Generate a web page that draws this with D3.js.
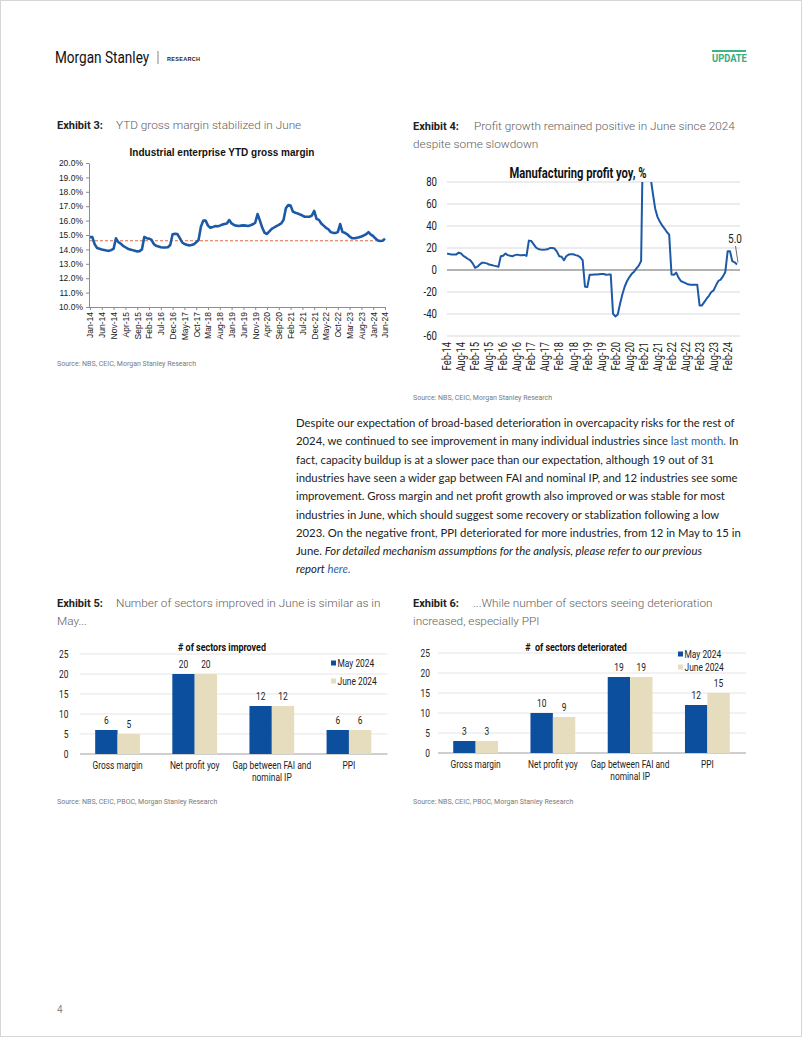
<!DOCTYPE html>
<html><head><meta charset="utf-8">
<script src="https://cdn.jsdelivr.net/npm/d3@7"></script>
<style>
html,body{margin:0;padding:0;background:#fff;}
svg{display:block;}
</style></head><body>
<svg id="page" width="802" height="1037"></svg>
<script>
// ---------------- DATA ----------------
// Exhibit 3: industrial enterprise YTD gross margin (%), monthly Jan-14 .. Jun-24
const gmValues = [
 14.85,14.85,14.35,14.10,14.05,14.00,13.96,13.92,13.90,13.95,14.05,14.77,
 14.50,14.40,14.25,14.15,14.05,14.00,13.95,13.90,13.85,13.88,14.00,14.86,
 14.78,14.75,14.68,14.38,14.25,14.20,14.15,14.13,14.13,14.15,14.30,15.05,
 15.08,15.07,14.80,14.50,14.38,14.32,14.28,14.30,14.35,14.50,14.65,15.58,
 16.00,16.00,15.65,15.50,15.55,15.62,15.60,15.65,15.72,15.76,15.80,16.04,
 15.80,15.70,15.65,15.63,15.65,15.67,15.65,15.63,15.68,15.74,15.85,16.46,
 16.00,15.50,15.15,15.07,15.25,15.42,15.52,15.62,15.70,15.80,16.04,16.85,
 17.08,17.04,16.62,16.55,16.50,16.42,16.35,16.27,16.27,16.27,16.35,16.67,
 16.12,16.05,15.80,15.65,15.50,15.40,15.20,15.15,15.14,15.20,15.76,15.20,
 15.15,15.05,14.90,14.78,14.77,14.80,14.85,14.90,14.97,15.05,15.20,15.02,
 14.93,14.75,14.62,14.58,14.60,14.75
];
const gmTickLabels = ["Jan-14","Jun-14","Nov-14","Apr-15","Sep-15","Feb-16","Jul-16","Dec-16","May-17","Oct-17","Mar-18","Aug-18","Jan-19","Jun-19","Nov-19","Apr-20","Sep-20","Feb-21","Jul-21","Dec-21","May-22","Oct-22","Mar-23","Aug-23","Jan-24","Jun-24"];
const gmYTicks = [10,11,12,13,14,15,16,17,18,19,20];
const gmReference = 14.6;

// Exhibit 4: manufacturing profit yoy (%), monthly Feb-14 .. Jun-24
const profitValues = [
 14.9,14.5,14.0,14.0,14.2,15.8,15.0,12.8,11.5,10.0,8.8,6.0,
 2.0,3.0,5.0,6.7,6.5,6.0,5.0,4.6,4.0,3.5,3.0,12.5,
 13.0,14.9,13.5,13.0,12.5,13.5,14.0,13.5,13.4,13.7,12.8,26.7,
 26.4,23.5,20.5,19.1,18.7,18.5,18.6,18.8,20.0,20.0,19.5,16.7,
 12.5,12.0,8.8,12.5,14.0,14.3,14.3,13.5,13.0,11.5,9.0,-15.2,
 -15.5,-4.3,-4.3,-4.1,-4.0,-3.8,-3.6,-3.6,-4.3,-4.2,-4.0,-39.8,
 -42.2,-40.4,-30.7,-22.0,-15.0,-10.0,-6.4,-3.5,-1.5,1.5,4.0,8.2,
 150,130,100,85,70,56,48.3,44,40.5,37.7,34.5,32.2,
 -4.0,-4.3,-2.4,-7.0,-10.0,-11.0,-12.0,-13.0,-13.4,-13.4,-13.4,-13.4,
 -32.2,-32.2,-29.2,-26.1,-23.5,-20.0,-18.5,-14.0,-10.0,-8.8,-5.8,-1.8,
 17.0,17.0,8.0,7.0,5.0
];
const profitTickLabels = ["Feb-14","Aug-14","Feb-15","Aug-15","Feb-16","Aug-16","Feb-17","Aug-17","Feb-18","Aug-18","Feb-19","Aug-19","Feb-20","Aug-20","Feb-21","Aug-21","Feb-22","Aug-22","Feb-23","Aug-23","Feb-24"];
const profitYTicks = [-60,-40,-20,0,20,40,60,80];
const profitLastLabel = "5.0";

// Exhibits 5 & 6: number of sectors
const sectorCategories = ["Gross margin","Net profit yoy","Gap between FAI and nominal IP","PPI"];
const seriesNames = ["May 2024","June 2024"];
const improvedMay = [6,20,12,6];
const improvedJune = [5,20,12,6];
const deterioratedMay = [3,10,19,12];
const deterioratedJune = [3,9,19,15];
const sectorYTicks = [0,5,10,15,20,25];

// ---------------- STYLE ----------------
const ARIAL = "'Liberation Sans',Arial,sans-serif";
const ROBOTO = "Roboto,'Liberation Sans',sans-serif";
const BODY = "Lato,'Open Sans',sans-serif";
const BLUE_LINE = "#1c5aa8";
const MAY_C = "#0b4f9e";
const JUNE_C = "#e6ddbf";
const SX = 0.8; // horizontal squeeze to imitate a condensed face

const svg = d3.select("#page");
svg.append("rect").attr("x",0.5).attr("y",0.5).attr("width",801).attr("height",1036)
  .attr("fill","#fff").attr("stroke","#d6d6d6");

// condensed text helper: positioned group, squeezed horizontally
function ctext(parent, x, y, str, o={}){
  const g = parent.append("g")
    .attr("transform", `translate(${x},${y})${o.rotate?` rotate(${o.rotate})`:""} scale(${o.sx||SX},1)`);
  const t = g.append("text").attr("font-family",ROBOTO).attr("font-size",o.size||10)
    .attr("font-weight",o.weight||"normal").attr("fill",o.fill||"#222")
    .attr("text-anchor",o.anchor||"start").attr("xml:space","preserve");
  if(o.dy) t.attr("dy",o.dy);
  t.text(str);
  return t;
}

// ---------------- HEADER ----------------
ctext(svg,55,63,"Morgan Stanley",{size:17,fill:"#111",sx:0.8});
svg.append("line").attr("x1",158).attr("x2",158).attr("y1",51).attr("y2",64).attr("stroke","#666").attr("stroke-width",0.8);
svg.append("text").attr("x",167).attr("y",60.5).attr("font-family",ARIAL).attr("font-size",5.5)
  .attr("font-weight","bold").attr("letter-spacing",0.3).attr("fill","#222").text("RESEARCH");
svg.append("rect").attr("x",712).attr("y",50).attr("width",34).attr("height",2).attr("fill","#3db589");
ctext(svg,712,62,"UPDATE",{size:11,weight:"bold",fill:"#35ad83",sx:0.85});

// ---------------- EXHIBIT TITLES ----------------
function exhibit(x, y, label, descX, lines){
  svg.append("text").attr("x",x).attr("y",y).attr("font-family",ROBOTO).attr("font-size",11)
    .attr("font-weight","bold").attr("fill","#222").text(label);
  lines.forEach((t,i)=>{
    svg.append("text").attr("x", i===0?descX:x).attr("y", y+18.3*i).attr("font-family",ROBOTO)
      .attr("font-size",11.8).attr("font-weight",300).attr("fill","#5e5e5e").text(t);
  });
}
exhibit(57,129,"Exhibit 3:",116,["YTD gross margin stabilized in June"]);
exhibit(413,130,"Exhibit 4:",474,["Profit growth remained positive in June since 2024","despite some slowdown"]);
exhibit(57,607,"Exhibit 5:",116,["Number of sectors improved in June is similar as in","May..."]);
exhibit(413,607,"Exhibit 6:",473,["...While number of sectors seeing deterioration","increased, especially PPI"]);

function source(x,y,t){
  svg.append("text").attr("x",x).attr("y",y).attr("font-family",ROBOTO).attr("font-size",7)
    .attr("fill","#7a7a7a").text(t);
}
source(57,366,"Source: NBS, CEIC, Morgan Stanley Research");
source(413,400,"Source: NBS, CEIC, Morgan Stanley Research");
source(57,804,"Source: NBS, CEIC, PBOC, Morgan Stanley Research");
source(413,804,"Source: NBS, CEIC, PBOC, Morgan Stanley Research");
svg.append("text").attr("x",57).attr("y",1013).attr("font-family",ROBOTO).attr("font-size",10)
  .attr("fill","#888").text("4");

// ---------------- CHART 1 ----------------
(function(){
  const x = d3.scaleLinear().domain([0, gmValues.length-1]).range([90, 385]);
  const y = d3.scaleLinear().domain([10,20]).range([307,163]);
  const g = svg.append("g");
  g.append("text").attr("x",222).attr("y",155.5).attr("text-anchor","middle")
    .attr("font-family",ARIAL).attr("font-weight","bold").attr("font-size",10).attr("fill","#111")
    .text("Industrial enterprise YTD gross margin");
  const ya = g.append("g").attr("transform","translate(89,0)")
    .call(d3.axisLeft(y).tickValues(gmYTicks).tickFormat(d=>d.toFixed(1)+"%").tickSize(3).tickSizeOuter(0));
  const xa = g.append("g").attr("transform","translate(0,307)")
    .call(d3.axisBottom(x).tickValues(d3.range(0,gmValues.length,5)).tickFormat((d,i)=>gmTickLabels[i]).tickSize(3).tickSizeOuter(0));
  [ya,xa].forEach(a=>{
    a.select(".domain").attr("stroke","#8c8c8c");
    a.selectAll(".tick line").attr("stroke","#8c8c8c");
    a.selectAll("text").attr("font-family",ARIAL).attr("font-size",8.5).attr("fill","#222");
  });
  xa.select(".domain").attr("d","M89,0.5H386");
  xa.selectAll("text").attr("transform","rotate(-90)").attr("text-anchor","end")
    .attr("x",-5).attr("y",0).attr("dy","0.35em");
  g.append("line").attr("x1",90).attr("x2",385).attr("y1",y(gmReference)).attr("y2",y(gmReference))
    .attr("stroke","#e06a45").attr("stroke-width",1).attr("stroke-dasharray","3,2");
  g.append("path").datum(gmValues)
    .attr("d", d3.line().x((d,i)=>x(i)).y(d=>y(d)))
    .attr("fill","none").attr("stroke",BLUE_LINE).attr("stroke-width",2.6).attr("stroke-linejoin","round");
})();

// ---------------- CHART 2 ----------------
(function(){
  const x = d3.scaleLinear().domain([0, profitValues.length-1]).range([447, 737]);
  const y = d3.scaleLinear().domain([-60,80]).range([336,182]);
  const g = svg.append("g");
  g.append("clipPath").attr("id","clip2").append("rect").attr("x",440).attr("y",y(80)).attr("width",310).attr("height",y(-60)-y(80));
  g.selectAll("line.grid").data(profitYTicks).enter().append("line")
    .attr("x1",447).attr("x2",740).attr("y1",d=>y(d)).attr("y2",d=>y(d))
    .attr("stroke",d=>d===0?"#9a9a9a":"#d9d9d9").attr("stroke-width",d=>d===0?1.5:1);
  profitYTicks.forEach(d=>ctext(g,437,y(d),String(d),{size:12,anchor:"end",dy:"0.35em",fill:"#222"}));
  profitTickLabels.forEach((d,i)=>ctext(g,x(i*6),342,d,{size:12,anchor:"end",dy:"0.35em",rotate:-90,sx:0.78}));
  g.append("path").datum(profitValues).attr("clip-path","url(#clip2)")
    .attr("d", d3.line().x((d,i)=>x(i)).y(d=>y(d)))
    .attr("fill","none").attr("stroke",BLUE_LINE).attr("stroke-width",2).attr("stroke-linejoin","round");
  ctext(g,578,178,"Manufacturing profit yoy, %",{size:14,weight:"bold",anchor:"middle",fill:"#111",sx:0.8});
  const li = profitValues.length-1;
  g.append("line").attr("x1",735.5).attr("y1",246).attr("x2",x(li)+1).attr("y2",y(profitValues[li])-2)
    .attr("stroke","#444").attr("stroke-width",0.8);
  ctext(g,735,243,profitLastLabel,{size:12.5,anchor:"middle",fill:"#222"});
})();

// ---------------- BAR CHARTS ----------------
function barChart(o){
  const g = svg.append("g");
  const x = d3.scaleBand().domain(sectorCategories).range([o.x0,o.x1]);
  const y = d3.scaleLinear().domain([0,25]).range([o.yZero,o.yTop]);
  const bw = x.bandwidth()*0.29;
  const cx = c => x(c)+x.bandwidth()/2;
  g.selectAll("line.grid").data(sectorYTicks).enter().append("line")
    .attr("x1",o.x0+1).attr("x2",o.x1).attr("y1",d=>y(d)).attr("y2",d=>y(d))
    .attr("stroke",d=>d===0?"#a0a0a0":"#dedede").attr("stroke-width",d=>d===0?1.2:0.8);
  sectorYTicks.forEach(d=>ctext(g,o.labelRight,y(d),String(d),{size:10.5,anchor:"end",dy:"0.35em"}));
  const series = [o.may,o.june];
  const cols = [MAY_C,JUNE_C];
  series.forEach((vals,s)=>{
    g.selectAll(null).data(vals).enter().append("rect")
      .attr("x",(d,i)=>cx(sectorCategories[i]) + (s===0?-bw:0))
      .attr("width",bw).attr("y",d=>y(d)).attr("height",d=>y(0)-y(d)).attr("fill",cols[s]);
    vals.forEach((d,i)=>ctext(g,cx(sectorCategories[i])+(s===0?-bw/2:bw/2),y(d)-6,String(d),{size:10.5,anchor:"middle"}));
  });
  // category labels, wrapped
  sectorCategories.forEach(c=>{
    const words = c.split(" ");
    const lines = []; let cur = [];
    const probe = g.append("text").attr("font-family",ROBOTO).attr("font-size",10.5);
    words.forEach(w=>{
      const trial = cur.concat([w]).join(" ");
      probe.text(trial);
      if(probe.node().getComputedTextLength()*SX>82 && cur.length){ lines.push(cur.join(" ")); cur=[w]; }
      else cur.push(w);
    });
    lines.push(cur.join(" "));
    probe.remove();
    lines.forEach((l,k)=>ctext(g,cx(c),o.yZero+15+k*11.5,l,{size:10.5,anchor:"middle"}));
  });
  ctext(g,o.titleX,o.titleY,o.title,{size:11.5,weight:"bold",anchor:"middle",fill:"#111",sx:0.78});
  seriesNames.forEach((n,i)=>{
    const ly = o.legendY[i];
    g.append("rect").attr("x",o.legendX).attr("y",ly-2.5).attr("width",5).attr("height",5).attr("fill",cols[i]);
    ctext(g,o.legendX+6.5,ly,n,{size:10.5,dy:"0.35em"});
  });
}
barChart({x0:79,x1:387.5,yZero:754,yTop:654,labelRight:68.5,title:"# of sectors improved",titleX:222,titleY:651,
  may:improvedMay,june:improvedJune,legendX:331,legendY:[663,681]});
barChart({x0:437,x1:746,yZero:753,yTop:653,labelRight:430,title:"#  of sectors deteriorated",titleX:576,titleY:651,
  may:deterioratedMay,june:deterioratedJune,legendX:678,legendY:[654,667]});

// ---------------- BODY TEXT ----------------
(function(){
  const lines = [
    [["Despite our expectation of broad-based deterioration in overcapacity risks for the rest of",""]],
    [["2024, we continued to see improvement in many individual industries since ",""],["last month.","link"],[" In",""]],
    [["fact, capacity buildup is at a slower pace than our expectation, although 19 out of 31",""]],
    [["industries have seen a wider gap between FAI and nominal IP, and 12 industries see some",""]],
    [["improvement. Gross margin and net profit growth also improved or was stable for most",""]],
    [["industries in June, which should suggest some recovery or stablization following a low",""]],
    [["2023. On the negative front, PPI deteriorated for more industries, from 12 in May to 15 in",""]],
    [["June. ",""],["For detailed mechanism assumptions for the analysis, please refer to our previous","it"]],
    [["report ","it"],["here.","itlink"]]
  ];
  const g = svg.append("g").attr("font-family",BODY).attr("fill","#222");
  const texts = lines.map((parts,i)=>{
    const t = g.append("text").attr("x",296).attr("y",427+18.3*i).attr("xml:space","preserve");
    parts.forEach(([s,k])=>{
      const ts = t.append("tspan").text(s);
      if(k.includes("link")) ts.attr("fill","#2d5fa8");
      if(k.includes("it")) ts.attr("font-style","italic");
    });
    return t;
  });
  texts.forEach(t=>t.attr("font-size",12));
  const w = texts[0].node().getComputedTextLength();
  const fs = 12*439/w;
  texts.forEach(t=>t.attr("font-size",fs));
})();
</script>
</body></html>
